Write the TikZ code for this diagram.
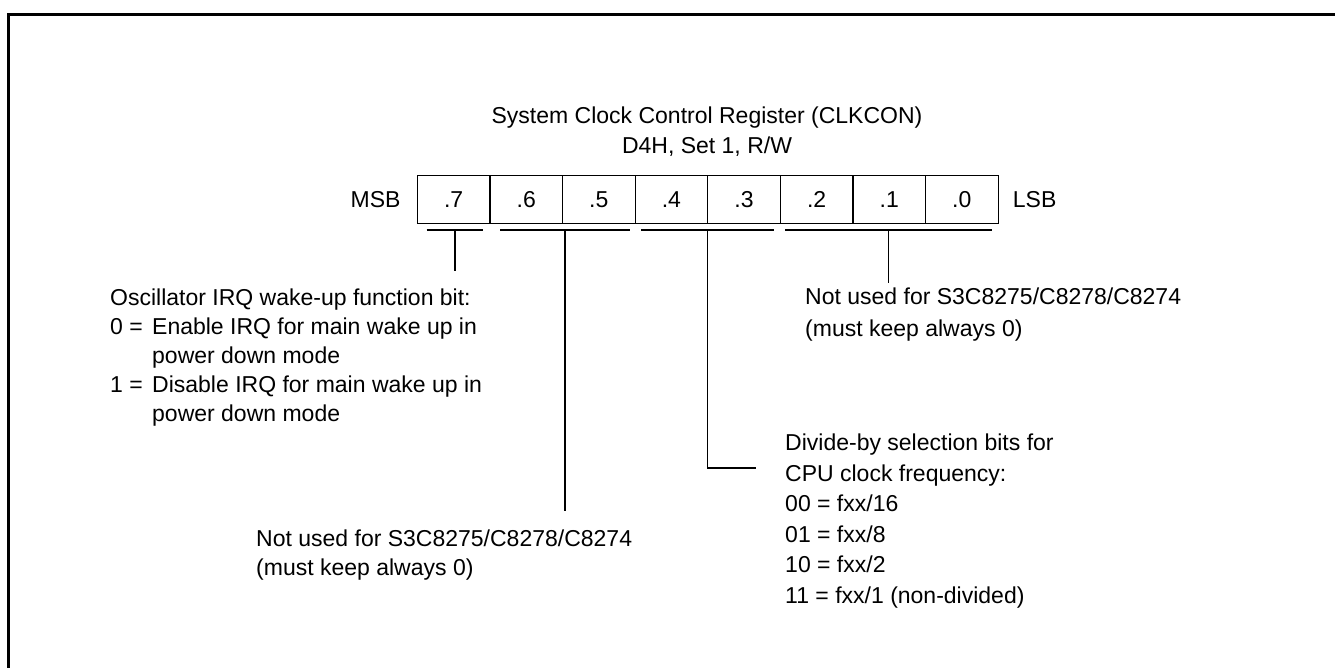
\documentclass[tikz,border=0pt]{standalone}
\usepackage{fontspec}
\setmainfont{Liberation Sans}
\usepackage{tikz}
\usetikzlibrary{positioning,calc}
\newcommand{\regfont}{\fontsize{23}{29}\selectfont}
\tikzset{
  frame/.style={line width=3pt},
  bitcell/.style={draw, line width=1.2pt, minimum width=72.6pt, minimum height=48pt, inner sep=0pt, anchor=north west, font=\regfont},
  side/.style={font=\regfont, inner sep=0pt},
  txt/.style={font=\regfont, align=left, inner sep=0pt, anchor=north west},
  lead/.style={line width=1.2pt},
}
\newcommand{\bitbar}[3]{\draw[lead] (#2,230) -- coordinate (#1) (#3,230);}
\newcommand{\val}[1]{\makebox[42pt][l]{#1}}

\begin{document}
\begin{tikzpicture}[x=1pt,y=-1pt]
  \useasboundingbox (0,0) rectangle (1335,668);
  \draw[frame] (8,668) -- (8,15) -- (1335,15);
  \node[side, align=center, font=\fontsize{23}{30}\selectfont] (title) at (707,132)
    {System Clock Control Register (CLKCON)\\D4H, Set 1, R/W};
  % register bits
  \foreach \i/\b in {0/7,1/6,2/5,3/4,4/3,5/2,6/1,7/0}
    \node[bitcell] (b\b) at ({416.7+72.6*\i},175) {.\b};
  \node[side, left=16pt of b7] (msb) {MSB};
  \node[side, right=14pt of b0] (lsb) {LSB};
  % field bars
  \bitbar{f7}{426.7}{483.3}
  \bitbar{f65}{500}{630}
  \bitbar{f43}{641}{774}
  \bitbar{f20}{785}{992}
  % field texts
  \node[txt] (oscbit) at (110,289) {Oscillator IRQ wake-up function bit:\\
    \val{0 =}Enable IRQ for main wake up in\\
    \hspace*{42pt}power down mode\\
    \val{1 =}Disable IRQ for main wake up in\\
    \hspace*{42pt}power down mode};
  \node[txt, font=\fontsize{23}{32}\selectfont] (keep20) at (805,288)
    {Not used for S3C8275/C8278/C8274\\(must keep always 0)};
  \node[txt, font=\fontsize{23}{30.5}\selectfont] (divsel) at (785,434)
    {Divide-by selection bits for\\CPU clock frequency:\\
    00 = fxx/16\\01 = fxx/8\\10 = fxx/2\\11 = fxx/1 (non-divided)};
  \node[txt] (keep65) at (256,530) {Not used for S3C8275/C8278/C8274\\(must keep always 0)};
  % leads
  \draw[lead] (f7) -- ([yshift=18pt]f7 |- oscbit.north);
  \draw[lead] (f20) -- ([yshift=5pt]f20 |- keep20.north);
  \draw[lead] (f65) -- ([yshift=19pt]f65 |- keep65.north);
  \draw[lead] (f43) |- ([xshift=-29pt,yshift=-34pt]divsel.north west);
\end{tikzpicture}
\end{document}
